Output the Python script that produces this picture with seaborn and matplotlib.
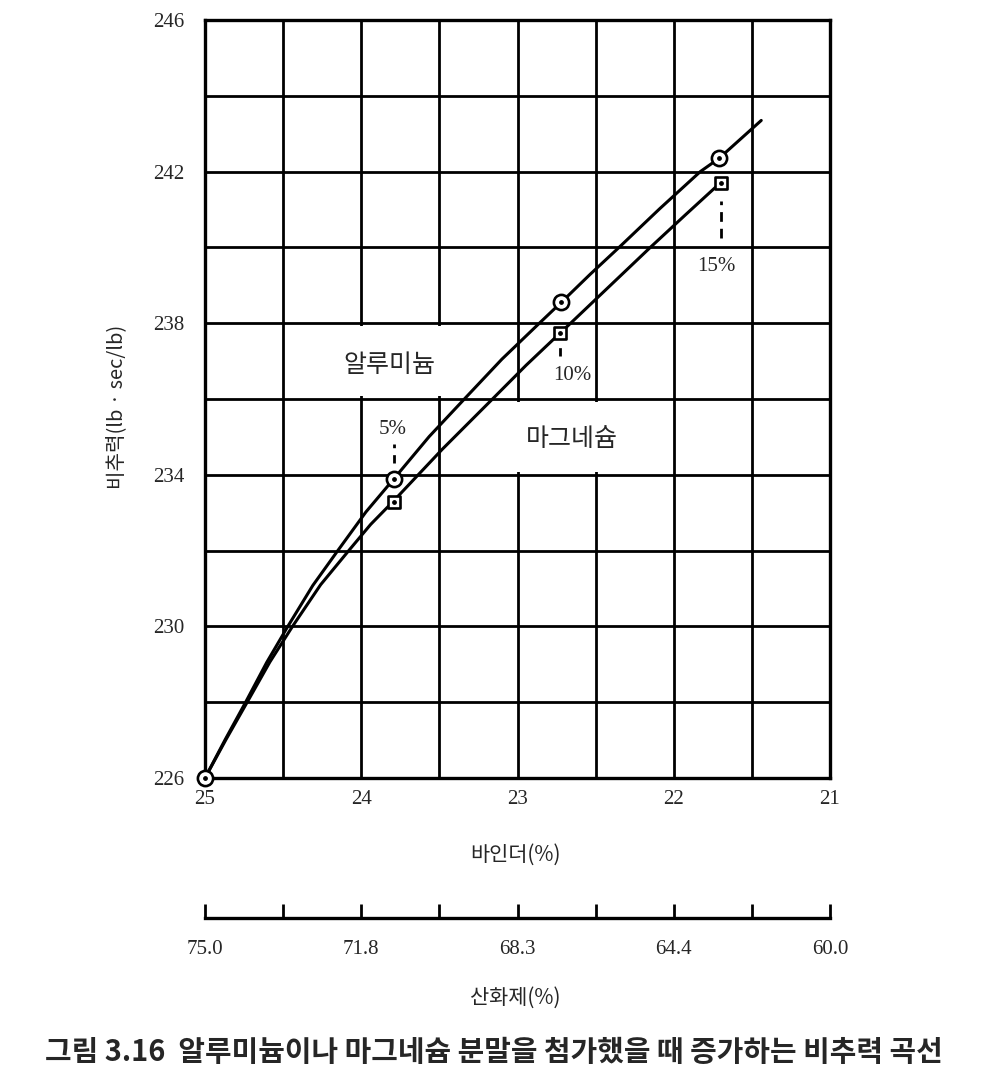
import matplotlib.pyplot as plt
import seaborn as sns
import numpy as np
import pandas as pd
from matplotlib.patches import Rectangle

# measured points: binder (%) vs specific impulse (lb·sec/lb)
al_binder = [25.0, 23.79, 22.72, 21.71]
al_isp = [226.0, 233.9, 238.55, 242.35]
mg_binder = [23.79, 22.73, 21.70]
mg_isp = [233.28, 237.73, 241.71]

# points
al_curve_x = [25.0, 24.87, 24.74, 24.605, 24.47, 24.31, 24.15, 23.97, 23.79, 23.565, 23.34,
              23.10, 22.86, 22.72, 22.535, 22.35, 22.09, 21.83, 21.71, 21.44]
al_curve_y = [226.0, 227.02, 228.0, 229.05, 230.0, 231.08, 232.0, 233.02, 233.9, 235.01, 236.0,
              237.05, 238.0, 238.55, 239.29, 240.0, 241.02, 242.0, 242.35, 243.35]
mg_curve_x = [25.0, 24.865, 24.73, 24.585, 24.44, 24.26, 24.08, 23.94, 23.80, 23.48, 23.16,
              22.945, 22.73, 22.66, 22.405, 22.15, 21.925, 21.70]
mg_curve_y = [226.0, 227.02, 228.0, 229.06, 230.0, 231.1, 232.0, 232.69, 233.28, 234.68, 236.0,
              236.89, 237.73, 238.0, 239.0, 240.0, 240.86, 241.71]

binder_ticks = [25, 24, 23, 22, 21]
oxidizer_labels = ['75.0', '71.8', '68.3', '64.4', '60.0']
isp_ticks = [226, 230, 234, 238, 242, 246]

sns.set_theme(style='white')
plt.rcParams['font.family'] = ['Noto Sans CJK KR', 'DejaVu Sans']
num_font = 'Liberation Serif'

fig = plt.figure(figsize=(9.83, 10.89), dpi=100)
ax = fig.add_axes([205/983, 1-778/1089, 625/983, 758/1089])

curves = pd.concat([
    pd.DataFrame({'binder': al_curve_x, 'isp': al_curve_y, 'metal': '알루미늄'}),
    pd.DataFrame({'binder': mg_curve_x, 'isp': mg_curve_y, 'metal': '마그네슘'}),
])
sns.lineplot(data=curves, x='binder', y='isp', hue='metal', units='metal', estimator=None,
             sort=False, palette=['black', 'black'], linewidth=2.2, legend=False, ax=ax, zorder=3)

# markers: circle with dot (Al), square with dot (Mg)
ax.scatter(al_binder, al_isp, s=120, marker='o', facecolor='white', edgecolor='black',
           linewidth=1.9, zorder=4, clip_on=False)
ax.scatter(mg_binder, mg_isp, s=85, marker='s', facecolor='white', edgecolor='black',
           linewidth=1.9, zorder=4)
ax.scatter(al_binder + mg_binder, al_isp + mg_isp, s=6, color='black', zorder=5, clip_on=False)

ax.set_xlim(25, 21)
ax.set_ylim(226, 246)
ax.set_xticks(binder_ticks)
ax.set_xticks(np.arange(21, 25.01, 0.5), minor=True)
ax.set_yticks(isp_ticks)
ax.set_yticks(np.arange(226, 246.01, 2), minor=True)
ax.set_xticklabels([str(t) for t in binder_ticks], fontfamily=num_font, fontsize=15)
ax.set_yticklabels([str(t) for t in isp_ticks], fontfamily=num_font, fontsize=15)
ax.tick_params(which='both', length=0)
ax.tick_params(axis='x', pad=9)
ax.tick_params(axis='y', pad=15)
ax.grid(which='both', color='black', linewidth=2)
for s in ax.spines.values():
    s.set_color('black')
    s.set_linewidth(2.4)
ax.set_xlabel('')
ax.set_ylabel('')

# white boxes behind the series labels
ax.add_patch(Rectangle((24.46, 236.08), -1.42, 1.84, facecolor='white', edgecolor='none', zorder=1))
ax.add_patch(Rectangle((23.46, 234.08), -1.42, 1.84, facecolor='white', edgecolor='none', zorder=1))
ax.text(23.82, 236.9, '알루미늄', fontsize=18, ha='center', va='center', zorder=6)
ax.text(22.65, 234.95, '마그네슘', fontsize=18, ha='center', va='center', zorder=6)

# percentage callouts
ax.text(23.80, 235.2, '5%', fontfamily=num_font, fontsize=15, ha='center', va='center')
ax.text(22.65, 236.62, '10%', fontfamily=num_font, fontsize=15, ha='center', va='center')
ax.text(21.73, 239.5, '15%', fontfamily=num_font, fontsize=15, ha='center', va='center')
ax.plot([23.79, 23.79], [234.3, 234.82], color='black', lw=2, ls=(0, (3, 2.5)))
ax.plot([22.73, 22.73], [237.13, 237.5], color='black', lw=2, ls=(0, (3, 2.5)))
ax.plot([21.70, 21.70], [240.26, 241.22], color='black', lw=2, ls=(0, (3.5, 2.5)))

# second scale: oxidizer (%)
ax2 = fig.add_axes([205/983, 1-918/1089, 625/983, 0.0001])
ax2.set_xlim(25, 21)
ax2.set_yticks([])
for side in ['top', 'left', 'right']:
    ax2.spines[side].set_visible(False)
ax2.spines['bottom'].set_color('black')
ax2.spines['bottom'].set_linewidth(2.4)
ax2.set_xticks(binder_ticks)
ax2.set_xticks(np.arange(21, 25.01, 0.5), minor=True)
ax2.set_xticklabels(oxidizer_labels, fontfamily=num_font, fontsize=15)
ax2.tick_params(axis='x', which='both', bottom=True, direction='in', length=10,
                width=2, color='black', pad=16)
ax2.patch.set_alpha(0)

fig.text(515/983, 1-855/1089, '바인더(%)', fontsize=15, ha='center', va='center')
fig.text(515/983, 1-998/1089, '산화제(%)', fontsize=15, ha='center', va='center')
fig.text(117/983, 1-407/1089, '비추력(lb · sec/lb)', fontsize=14.5, rotation=90, ha='center', va='center')
fig.text(45/983, 1-1052/1089, '그림 3.16  알루미늄이나 마그네슘 분말을 첨가했을 때 증가하는 비추력 곡선',
         fontsize=20.8, fontweight='bold', ha='left', va='center')

fig.savefig('out.png', dpi=100, facecolor='white')
